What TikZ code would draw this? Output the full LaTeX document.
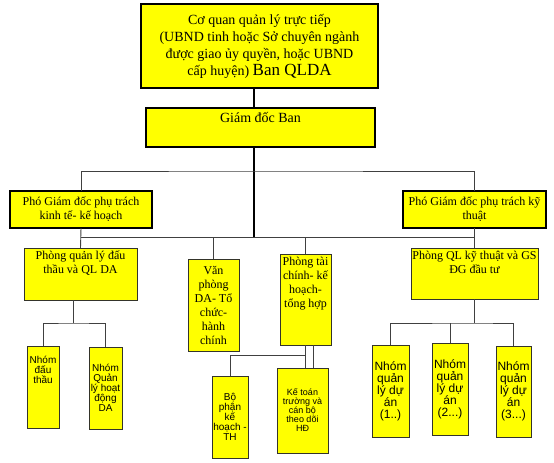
\documentclass[tikz,border=0pt]{standalone}
\usepackage{fontspec}
\setmainfont{Liberation Serif}
\setsansfont{Liberation Sans}
\usepackage{xcolor}
\definecolor{orgyellow}{HTML}{FFFF00}
\definecolor{orgline}{HTML}{34342A}
\tikzset{
  box/.style={rectangle, draw=orgline, line width=0.9pt, fill=orgyellow,
    inner sep=0pt, outer sep=0pt, anchor=north west},
  headbox/.style={box, draw=black, line width=2.6pt},
  link/.style={draw=black!75, line width=0.9pt},
  stem/.style={draw=black, line width=2pt},
  big/.style={font=\fontsize{14}{17}\selectfont},
  ser/.style={font=\fontsize{12}{14}\selectfont},
  san/.style={font=\sffamily\fontsize{#1}{#1pt+1.6pt}\selectfont},
  san/.default=10,
}
% box text: [inner pos]{width}{height}{text}
\newcommand{\inbox}[4][c]{\parbox[c][#3][#1]{#2}{\centering #4\par}}

\begin{document}
\begin{tikzpicture}[x=1pt,y=-1pt]
    \fill[white] (0,0) rectangle (554,463);
    \useasboundingbox (0,0) rectangle (554,463);

    % top levels
    \node[headbox, big] (coquan) at (141,4) {\inbox{237pt}{84pt}{Cơ quan quản lý trực tiếp\\ (UBND tinh hoặc Sở chuyên ngành\\ được giao ủy quyền, hoặc UBND\\ cấp huyện) {\fontsize{17}{17}\selectfont Ban QLDA}}};
    \node[headbox, big] (giamdoc) at (146,108) {\inbox[t]{229pt}{39pt}{\vspace*{4pt}Giám đốc Ban}};
    \node[headbox, ser] (pgdkte) at (10,191) {\inbox{142pt}{37pt}{Phó Giám đốc phụ trách\\ kinh tế- kế hoạch}};
    \node[headbox, ser] (pgdkthuat) at (403,191) {\inbox{143pt}{37pt}{Phó Giám đốc phụ trách kỹ\\ thuật}};

    % phong ban
    \node[box, ser] (pqldt) at (24,248) {\inbox[t]{113pt}{52pt}{\vspace*{3pt}Phòng quản lý đấu\\ thầu và QL DA}};
    \node[box, ser] (vanphong) at (188,259) {\inbox{51pt}{92pt}{Văn\\ phòng\\ DA- Tổ\\ chức-\\ hành\\ chính}};
    \node[box, ser] (taichinh) at (280,254) {\inbox[t]{51pt}{91pt}{\vspace*{3pt}Phòng tài\\ chính- kế\\ hoạch-\\ tổng hợp}};
    \node[box, ser] (pqlkt) at (411,248) {\inbox[t]{127pt}{51pt}{\vspace*{3pt}Phòng QL kỹ thuật và GS\\ ĐG đầu tư}};

    % nhom
    \node[box, san] (nhomdt) at (27,346) {\inbox[t]{32pt}{82pt}{\vspace*{10pt}Nhóm\\ đấu\\ thầu}};
    \node[box, san] (nhomqlhd) at (89,347) {\inbox{33pt}{82pt}{Nhóm\\ Quản\\ lý hoạt\\ động\\ DA}};
    \node[box, san] (bophan) at (212,376) {\inbox{36pt}{82pt}{Bộ\\ phận\\ kế\\ hoạch -\\ TH}};
    \node[box, san=9] (ketoan) at (277,368) {\inbox{51pt}{85pt}{Kế toán\\ trường và\\ cán bộ\\ theo dõi\\ HĐ}};
    \node[box, san=12] (nhom1) at (372,345) {\inbox{37pt}{92pt}{Nhóm\\ quản\\ lý dự\\ án\\ (1..)}};
    \node[box, san=12] (nhom2) at (432,343) {\inbox{36pt}{92pt}{Nhóm\\ quản\\ lý dự\\ án\\ (2...)}};
    \node[box, san=12] (nhom3) at (496,346) {\inbox{35pt}{91pt}{Nhóm\\ quản\\ lý dự\\ án\\ (3...)}};

    \coordinate (bar1) at (254,171);
    \coordinate (bar2) at (254,237);
    \coordinate (forkl) at (73,323);
    \coordinate (forkr) at (473,323);
    \coordinate (forkm) at (305,355);
    \coordinate (forkm2) at (313,355);

    \draw[stem] (bar1 |- coquan.south) -- (bar1 |- giamdoc.north);
    \draw[stem] (bar1 |- giamdoc.south) -- (bar2);
    \draw[link] (pgdkte.north) |- (bar1) -| (pgdkthuat.north);
    \draw[link] (pgdkte.south |- bar2) -- (pgdkthuat.south |- bar2);
    \draw[link] (pgdkte.south) -- (pqldt.north);
    \draw[link] (pgdkthuat.south) -- (pqlkt.north);
    \draw[link] (vanphong.north |- bar2) -- (vanphong.north);
    \draw[link] (taichinh.north |- bar2) -- (taichinh.north);

    \draw[link] (forkl |- pqldt.south) -- (forkl);
    \draw[link] (nhomdt.north) |- (forkl) -| (nhomqlhd.north);

    \draw[link] (pqlkt.south) -- (pqlkt.south |- forkr);
    \draw[link] (nhom1.north) |- (forkr) -| (nhom3.north);
    \draw[link] (nhom2.north |- forkr) -- (nhom2.north);

    \draw[link] (forkm |- taichinh.south) -- (forkm |- ketoan.north);
    \draw[link] (forkm2 |- taichinh.south) -- (forkm2 |- ketoan.north);
    \draw[link] (bophan.north) |- (forkm);
\end{tikzpicture}
\end{document}
